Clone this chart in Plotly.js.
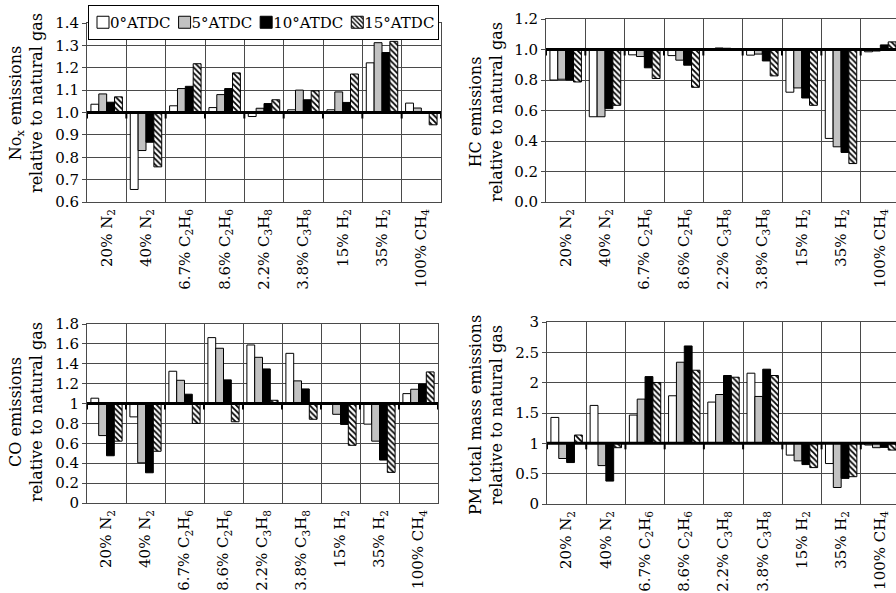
<!DOCTYPE html>
<html>
<head>
<meta charset="utf-8">
<script src="https://cdn.plot.ly/plotly-3.0.1.min.js"></script>
<style>
  html, body { margin: 0; padding: 0; background: #fff; overflow: hidden; }
  #chart { width: 910px; height: 600px; }
</style>
</head>
<body>
<div id="chart"></div>
<script>
// ---- Data ----
const categories = [
  '20% N<sub>2</sub>', '40% N<sub>2</sub>',
  '6.7% C<sub>2</sub>H<sub>6</sub>', '8.6% C<sub>2</sub>H<sub>6</sub>',
  '2.2% C<sub>3</sub>H<sub>8</sub>', '3.8% C<sub>3</sub>H<sub>8</sub>',
  '15% H<sub>2</sub>', '35% H<sub>2</sub>', '100% CH<sub>4</sub>'
];
const seriesNames = ['0°ATDC', '5°ATDC', '10°ATDC', '15°ATDC'];

// NOx emissions relative to natural gas
const nox0  = [1.037, 0.656, 1.030, 1.022, 0.982, 1.012, 1.012, 1.222, 1.042];
const nox5  = [1.083, 0.830, 1.107, 1.080, 1.019, 1.100, 1.092, 1.312, 1.020];
const nox10 = [1.046, 0.867, 1.117, 1.107, 1.040, 1.057, 1.045, 1.268, 1.000];
const nox15 = [1.070, 0.757, 1.218, 1.177, 1.057, 1.097, 1.172, 1.318, 0.945];

// HC emissions relative to natural gas
const hc0  = [0.800, 0.559, 0.965, 0.960, 1.000, 0.963, 0.720, 0.417, 0.985];
const hc5  = [0.805, 0.559, 0.954, 0.930, 1.010, 0.970, 0.748, 0.362, 0.990];
const hc10 = [0.800, 0.612, 0.880, 0.897, 1.008, 0.925, 0.682, 0.325, 1.030];
const hc15 = [0.787, 0.634, 0.810, 0.752, 1.000, 0.827, 0.634, 0.252, 1.050];

// CO emissions relative to natural gas
const co0  = [1.054, 0.866, 1.325, 1.663, 1.589, 1.505, 0.995, 0.793, 1.100];
const co5  = [0.678, 0.404, 1.234, 1.556, 1.465, 1.228, 0.892, 0.622, 1.144];
const co10 = [0.475, 0.304, 1.094, 1.238, 1.348, 1.147, 0.790, 0.432, 1.197];
const co15 = [0.622, 0.520, 0.800, 0.817, 1.033, 0.842, 0.580, 0.308, 1.318];

// PM total mass emissions relative to natural gas
const pm0  = [1.427, 1.625, 1.466, 1.784, 1.680, 2.156, 0.806, 0.667, 0.972];
const pm5  = [0.750, 0.633, 1.729, 2.337, 1.805, 1.773, 0.711, 0.272, 0.928];
const pm10 = [0.683, 0.378, 2.100, 2.605, 2.118, 2.222, 0.650, 0.422, 0.933];
const pm15 = [1.137, 0.928, 2.003, 2.205, 2.090, 2.118, 0.600, 0.450, 0.889];

// ---- Styles ----
const FONT = 'DejaVu Serif, serif';
const GRID = '#4a4a4a';
const markerStyles = [
  { color: '#ffffff', line: { color: '#000', width: 1 } },
  { color: '#c2c2c2', line: { color: '#000', width: 1 } },
  { color: '#000000', line: { color: '#000', width: 1 } },
  { color: '#ffffff', line: { color: '#000', width: 1 },
    pattern: { shape: '\\', fgcolor: '#000', bgcolor: '#fff', size: 4, solidity: 0.45 } }
];

const BASE = 1;
function groupTraces(seriesList, xa, ya, showLegend) {
  return seriesList.map((vals, k) => ({
    type: 'bar',
    x: categories,
    y: vals.map(v => v - BASE),
    base: BASE,
    xaxis: xa, yaxis: ya,
    name: seriesNames[k],
    showlegend: showLegend,
    marker: markerStyles[k],
    hoverinfo: 'skip'
  }));
}

const data = [].concat(
  groupTraces([nox0, nox5, nox10, nox15], 'x', 'y', true),
  groupTraces([hc0, hc5, hc10, hc15], 'x2', 'y2', false),
  groupTraces([co0, co5, co10, co15], 'x3', 'y3', false),
  groupTraces([pm0, pm5, pm10, pm15], 'x4', 'y4', false)
);

const W = 910, H = 600;
function xdom(a, b) { return [a / W, b / W]; }
function ydom(top, bottom) { return [1 - bottom / H, 1 - top / H]; }

function xAxis(domain, anchor) {
  return {
    domain: domain, anchor: anchor, type: 'category',
    categoryorder: 'array', categoryarray: categories,
    range: [-0.5, categories.length - 0.5],
    tickson: 'boundaries', ticks: '', tickangle: -90,
    showgrid: true, gridcolor: GRID, gridwidth: 1,
    showline: true, linecolor: GRID, linewidth: 1, mirror: true,
    tickfont: { family: FONT, size: 15, color: '#000' },
    fixedrange: true
  };
}
function yAxis(domain, anchor, range, dtick, fmt) {
  return {
    domain: domain, anchor: anchor, range: range, dtick: dtick, tick0: 0,
    tickformat: fmt,
    showgrid: true, gridcolor: GRID, gridwidth: 1,
    showline: true, linecolor: GRID, linewidth: 1, mirror: true,
    zeroline: false,
    ticks: 'outside', ticklen: 4, tickcolor: GRID,
    tickfont: { family: FONT, size: 15, color: '#000' },
    fixedrange: true
  };
}

// baseline at 1 plus small notches at category boundaries
const shapes = [];
[['x', 'y'], ['x2', 'y2'], ['x3', 'y3'], ['x4', 'y4']].forEach(([xa, ya]) => {
  shapes.push({ type: 'line', xref: xa + ' domain', yref: ya, x0: 0, x1: 1, y0: BASE, y1: BASE,
    line: { color: '#000', width: 3 } });
  for (let i = 0; i <= categories.length; i++) {
    shapes.push({ type: 'line', xref: xa, yref: ya, ysizemode: 'pixel', yanchor: BASE,
      x0: i - 0.5, x1: i - 0.5, y0: 0, y1: -6, line: { color: '#000', width: 2 } });
  }
});

function yTitle(text, cx, cy) {
  return { text: text, xref: 'paper', yref: 'paper', x: cx / W, y: 1 - cy / H,
    xanchor: 'center', yanchor: 'middle', textangle: -90, showarrow: false,
    align: 'center', font: { family: FONT, size: 16, color: '#000' } };
}

const LEG_LEFT = 88;
const layout = {
  width: W, height: H, autosize: false,
  margin: { l: 0, r: 0, t: 0, b: 0 },
  paper_bgcolor: '#fff', plot_bgcolor: '#fff',
  font: { family: FONT, color: '#000' },
  barmode: 'group', bargap: 0.2, bargroupgap: 0,
  xaxis:  xAxis(xdom(87, 441), 'y'),
  yaxis:  yAxis(ydom(23, 202), 'x', [0.6, 1.4], 0.1, '.1f'),
  xaxis2: xAxis(xdom(546, 900), 'y2'),
  yaxis2: yAxis(ydom(19, 202), 'x2', [0, 1.2], 0.2, '.1f'),
  xaxis3: xAxis(xdom(87, 438), 'y3'),
  yaxis3: yAxis(ydom(324, 503), 'x3', [0, 1.8], 0.2, ''),
  xaxis4: xAxis(xdom(547, 900), 'y4'),
  yaxis4: yAxis(ydom(322, 504), 'x4', [0, 3], 0.5, ''),
  shapes: shapes,
  annotations: [
    yTitle('No<sub>x</sub> emissions<br>relative to natural gas', 26, 103),
    yTitle('HC emissions<br>relative to natural gas', 486, 112),
    yTitle('CO emissions<br>relative to natural gas', 26, 412),
    yTitle('PM total mass emissions<br>relative to natural gas', 486, 415)
  ],
  legend: {
    orientation: 'h', x: LEG_LEFT / W, y: 1 - 5 / H, xanchor: 'left', yanchor: 'top',
    bgcolor: '#fff', bordercolor: '#000', borderwidth: 1,
    font: { family: FONT, size: 15, color: '#000' },
    itemwidth: 30, entrywidth: 40, traceorder: 'normal', tracegroupgap: 0
  },
  showlegend: true
};

Plotly.newPlot('chart', data, layout, { displayModeBar: false, staticPlot: true }).then(gd => {
  // Excel-style legend: each label sits right against its swatch, entries packed by text width
  const leg = gd.querySelector('.legend');
  if (!leg) return;
  const TEXT_X = 27, GAP = 8, SWATCH_LEFT = 14;
  let x = -5, lastEnd = 0;
  leg.querySelectorAll('.traces').forEach(g => {
    const m = /translate\(\s*([-\d.e]+)[\s,]+([-\d.e]+)\s*\)/.exec(g.getAttribute('transform') || '');
    const y = m ? m[2] : 0;
    g.setAttribute('transform', 'translate(' + x + ',' + y + ')');
    const t = g.querySelector('.legendtext');
    t.setAttribute('x', TEXT_X);
    const tw = t.getComputedTextLength();
    lastEnd = x + TEXT_X + tw;
    x = lastEnd + GAP - SWATCH_LEFT;
  });
  const bg = leg.querySelector('rect.bg');
  if (bg) bg.setAttribute('width', lastEnd + 4);
  const sb = leg.querySelector('.scrollbox');
  if (sb) sb.removeAttribute('clip-path');
});
</script>
</body>
</html>
